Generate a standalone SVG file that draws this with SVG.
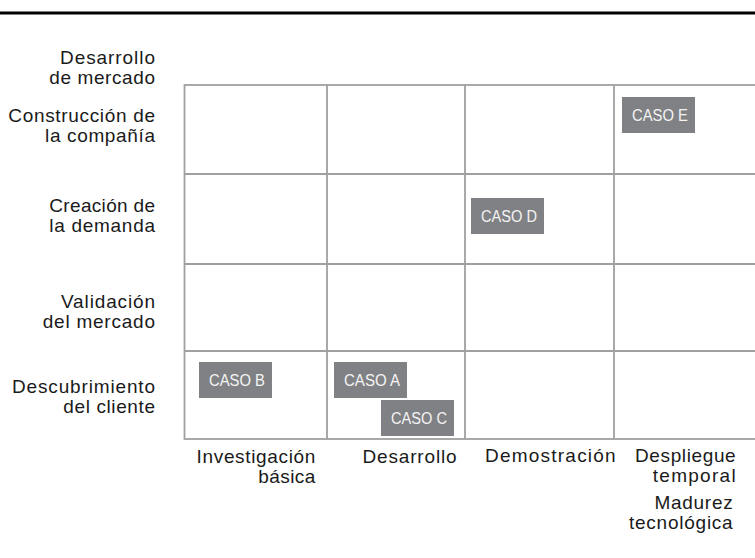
<svg xmlns="http://www.w3.org/2000/svg" width="755" height="558" viewBox="0 0 755 558">
<style>
.lbl{font-family:"Liberation Sans",Arial,sans-serif;font-size:19px;fill:#1a1a1a;text-anchor:end}
.grid{stroke:#a0a0a0;stroke-width:1.8;fill:none}
.box{fill:#808184}
.bt{font-family:"Liberation Sans",Arial,sans-serif;font-size:16px;fill:#f4f4f4;text-anchor:middle}
</style>
<rect width="755" height="558" fill="#ffffff"/>
<line x1="0" y1="13" x2="755" y2="13" stroke="#000" stroke-width="3"/>
<g id="grid">
<rect class="grid" x="184.5" y="85" width="572" height="354"/>
<line class="grid" x1="327" y1="85" x2="327" y2="439"/>
<line class="grid" x1="465" y1="85" x2="465" y2="439"/>
<line class="grid" x1="614" y1="85" x2="614" y2="439"/>
<line class="grid" x1="184.5" y1="174" x2="755" y2="174"/>
<line class="grid" x1="184.5" y1="264" x2="755" y2="264"/>
<line class="grid" x1="184.5" y1="351" x2="755" y2="351"/>
</g>
<g id="y-labels">
<text class="lbl" x="155" y="64"><tspan textLength="95" lengthAdjust="spacing">Desarrollo</tspan></text>
<text class="lbl" x="155" y="83.5"><tspan textLength="105.7" lengthAdjust="spacing">de mercado</tspan></text>
<text class="lbl" x="155" y="122"><tspan textLength="146.7" lengthAdjust="spacing">Construcción de</tspan></text>
<text class="lbl" x="155" y="142"><tspan textLength="110" lengthAdjust="spacing">la compañía</tspan></text>
<text class="lbl" x="155" y="212.3"><tspan textLength="105.7" lengthAdjust="spacing">Creación de</tspan></text>
<text class="lbl" x="155" y="232.3"><tspan textLength="105.7" lengthAdjust="spacing">la demanda</tspan></text>
<text class="lbl" x="155" y="308.3"><tspan textLength="94" lengthAdjust="spacing">Validación</tspan></text>
<text class="lbl" x="155" y="328.3"><tspan textLength="112.3" lengthAdjust="spacing">del mercado</tspan></text>
<text class="lbl" x="155" y="393.3"><tspan textLength="143" lengthAdjust="spacing">Descubrimiento</tspan></text>
<text class="lbl" x="155" y="413.3"><tspan textLength="91.7" lengthAdjust="spacing">del cliente</tspan></text>
</g>
<g id="x-labels">
<text class="lbl" x="315.3" y="463"><tspan textLength="118.7" lengthAdjust="spacing">Investigación</tspan></text>
<text class="lbl" x="315.3" y="482.5"><tspan textLength="57" lengthAdjust="spacing">básica</tspan></text>
<text class="lbl" x="456.7" y="463"><tspan textLength="94.3" lengthAdjust="spacing">Desarrollo</tspan></text>
<text class="lbl" x="615.7" y="462.3"><tspan textLength="130.7" lengthAdjust="spacing">Demostración</tspan></text>
<text class="lbl" x="735.7" y="462.3"><tspan textLength="100.7" lengthAdjust="spacing">Despliegue</tspan></text>
<text class="lbl" x="735.7" y="482"><tspan textLength="83" lengthAdjust="spacing">temporal</tspan></text>
<text class="lbl" x="732.7" y="509"><tspan textLength="78.3" lengthAdjust="spacing">Madurez</tspan></text>
<text class="lbl" x="732.7" y="528.5"><tspan textLength="103.7" lengthAdjust="spacing">tecnológica</tspan></text>
</g>
<g id="caso-b"><rect class="box" x="199" y="362" width="73" height="36"/><text class="bt" x="237" y="386"><tspan textLength="56" lengthAdjust="spacingAndGlyphs">CASO B</tspan></text></g>
<g id="caso-a"><rect class="box" x="334" y="362" width="73" height="36"/><text class="bt" x="372" y="386"><tspan textLength="56" lengthAdjust="spacingAndGlyphs">CASO A</tspan></text></g>
<g id="caso-c"><rect class="box" x="381" y="400" width="73" height="36"/><text class="bt" x="419" y="424"><tspan textLength="56" lengthAdjust="spacingAndGlyphs">CASO C</tspan></text></g>
<g id="caso-d"><rect class="box" x="471" y="198" width="73" height="36"/><text class="bt" x="509" y="222"><tspan textLength="56" lengthAdjust="spacingAndGlyphs">CASO D</tspan></text></g>
<g id="caso-e"><rect class="box" x="622" y="97" width="73" height="36"/><text class="bt" x="660" y="121"><tspan textLength="56" lengthAdjust="spacingAndGlyphs">CASO E</tspan></text></g>
<g id="connectors"/>
</svg>
